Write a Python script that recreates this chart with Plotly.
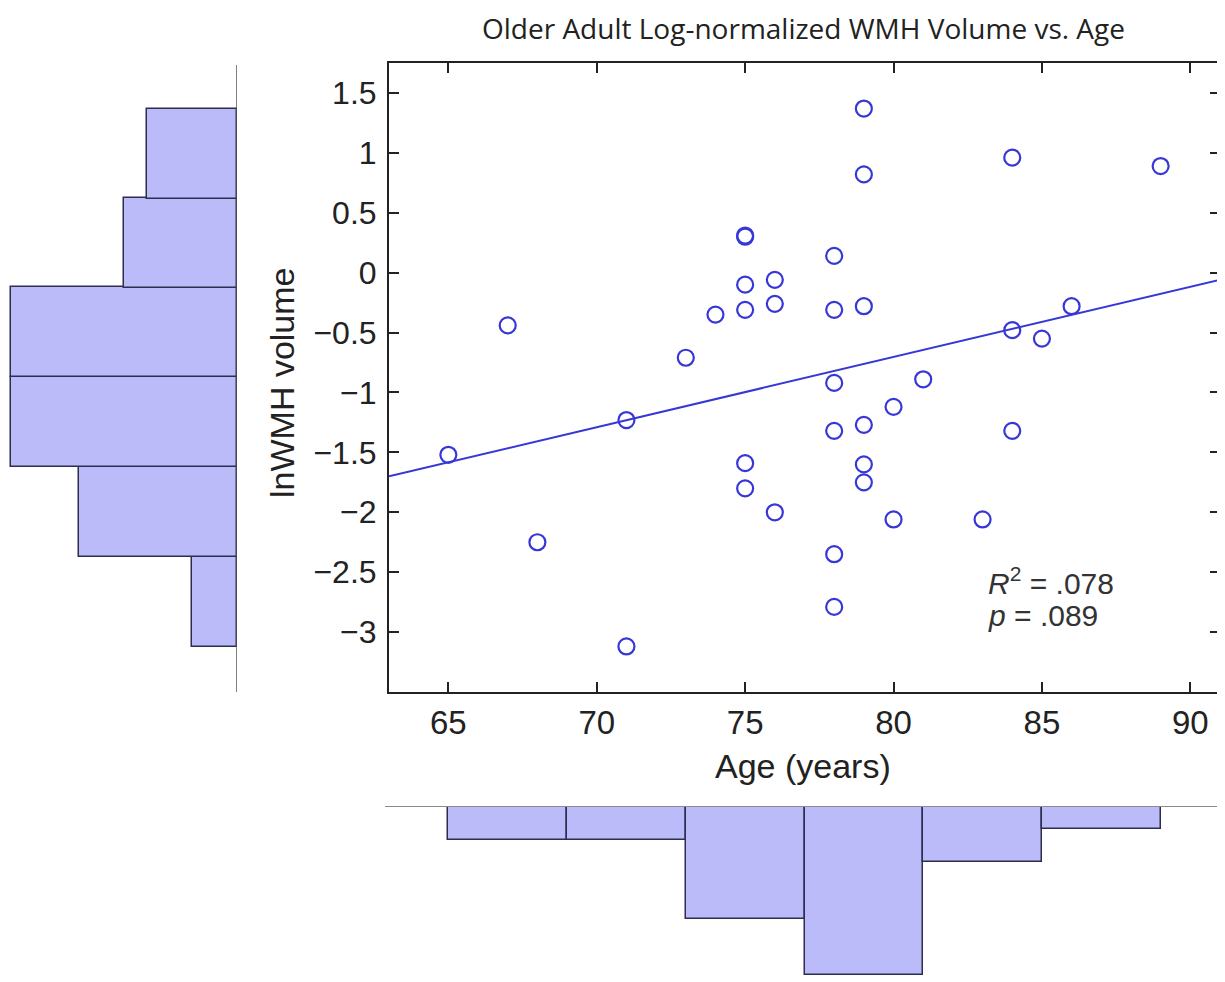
import numpy as np
import plotly.graph_objects as go

# ---------------- data ----------------
age = [65, 67, 68, 71, 71, 73, 74,
       75, 75, 75, 75, 75, 75,
       76, 76, 76,
       78, 78, 78, 78, 78, 78,
       79, 79, 79, 79, 79, 79,
       80, 80, 81, 83,
       84, 84, 84, 85, 86, 89]
ln_wmh = [-1.52, -0.44, -2.25, -1.23, -3.12, -0.71, -0.35,
          0.30, 0.31, -0.10, -0.31, -1.59, -1.80,
          -0.06, -0.26, -2.00,
          0.14, -0.31, -0.92, -1.32, -2.35, -2.79,
          1.37, 0.82, -0.28, -1.27, -1.60, -1.75,
          -1.12, -2.06, -0.89, -2.06,
          0.96, -0.48, -1.32, -0.55, -0.28, 0.89]

# marginal histogram counts (6 bins each)
age_bin_edges = [65, 69, 73, 77, 81, 85, 89]
age_counts = [3, 3, 10, 15, 5, 2]
wmh_bin_edges = [-3.125, -2.375, -1.625, -0.867, -0.125, 0.617, 1.367]
wmh_counts = [2, 7, 10, 10, 5, 4]

x_ticks = [65, 70, 75, 80, 85, 90]
y_ticks = [-3, -2.5, -2, -1.5, -1, -0.5, 0, 0.5, 1, 1.5]
y_ticktext = ["\u22123", "\u22122.5", "\u22122", "\u22121.5", "\u22121", "\u22120.5", "0", "0.5", "1", "1.5"]

title_text = "Older Adult Log-normalized WMH Volume vs. Age"
x_title = "Age (years)"
y_title = "lnWMH volume"
r2_text = "<i>R</i><sup>2</sup> = .078"
p_text = "<i>p</i> = .089"

# ---------------- derived ----------------
OFF = 8  # page body margin
W, H = 1225 - OFF, 982 - OFF
def px(xp):
    return (xp - OFF) / W
def py(yp):
    return 1 - (yp - OFF) / H

slope, intercept = np.polyfit(age, ln_wmh, 1)
x_range = [63, 91]
fit_x = x_range
fit_y = [slope * v + intercept for v in fit_x]

age_centers = [(a + b) / 2 for a, b in zip(age_bin_edges[:-1], age_bin_edges[1:])]
age_width = age_bin_edges[1] - age_bin_edges[0]
wmh_centers = [(a + b) / 2 for a, b in zip(wmh_bin_edges[:-1], wmh_bin_edges[1:])]
wmh_width = (wmh_bin_edges[-1] - wmh_bin_edges[0]) / len(wmh_counts)

blue = "rgb(55,55,215)"
bar_fill = "rgb(187,187,250)"
bar_edge = "rgb(45,45,80)"
txt = "#222222"
font_main = "Liberation Sans, Arial, sans-serif"

fig = go.Figure()

# left marginal histogram (horizontal, extending to the left)
fig.add_trace(go.Bar(
    x=wmh_counts, y=wmh_centers, orientation="h", width=wmh_width,
    xaxis="x2", yaxis="y",
    marker=dict(color=bar_fill, line=dict(color=bar_edge, width=1.5)),
    showlegend=False, hoverinfo="skip"))

# bottom marginal histogram (extending downward)
fig.add_trace(go.Bar(
    x=age_centers, y=age_counts, width=age_width,
    xaxis="x", yaxis="y3",
    marker=dict(color=bar_fill, line=dict(color=bar_edge, width=1.5)),
    showlegend=False, hoverinfo="skip"))

# regression line
fig.add_trace(go.Scatter(
    x=fit_x, y=fit_y, mode="lines", xaxis="x", yaxis="y",
    line=dict(color=blue, width=2), showlegend=False, hoverinfo="skip"))

# scatter points
fig.add_trace(go.Scatter(
    x=age, y=ln_wmh, mode="markers", xaxis="x", yaxis="y",
    marker=dict(symbol="circle-open", size=16, color=blue,
                line=dict(color=blue, width=2.2)),
    showlegend=False))

x_dom = [px(389), px(1220)]
y_dom = [py(692), py(63)]

fig.update_layout(
    width=W, height=H,
    margin=dict(l=0, r=0, t=0, b=0),
    paper_bgcolor="white", plot_bgcolor="white",
    bargap=0,
    font=dict(family=font_main, color=txt),
    xaxis=dict(domain=x_dom, range=x_range, anchor="y",
               showline=True, linecolor=txt, linewidth=2, mirror="ticks",
               ticks="inside", ticklen=10, tickwidth=2, tickcolor=txt,
               tickvals=x_ticks, tickfont=dict(size=33, family=font_main, color=txt),
               showgrid=False, zeroline=False),
    yaxis=dict(domain=y_dom, range=[-3.5, 1.75], anchor="x",
               showline=True, linecolor=txt, linewidth=2, mirror="ticks",
               ticks="inside", ticklen=10, tickwidth=2, tickcolor=txt,
               tickvals=y_ticks, ticktext=y_ticktext, ticklabelstandoff=4,
               tickfont=dict(size=32, family=font_main, color=txt),
               showgrid=False, zeroline=False),
    xaxis2=dict(domain=[0, px(237)], range=[(237 - OFF) / 22.6, 0], anchor="y",
                visible=False, showgrid=False, zeroline=False),
    yaxis3=dict(domain=[0, py(806)], range=[(982 - 806) / 11.27, 0], anchor="x",
                visible=False, showgrid=False, zeroline=False),
    shapes=[
        dict(type="line", xref="x2", x0=0, x1=0, yref="paper",
             y0=py(692), y1=py(65), line=dict(color="#555555", width=1.5), layer="above"),
        dict(type="line", yref="y3", y0=0, y1=0, xref="paper",
             x0=px(385), x1=px(1220), line=dict(color="#8a8a8a", width=2), layer="above"),
    ],
    annotations=[
        dict(text=title_text, xref="paper", yref="paper", x=px(803), y=1.0,
             xanchor="center", yanchor="top", showarrow=False, borderpad=0,
             font=dict(family="Open Sans, sans-serif", size=28, color=txt)),
        dict(text=x_title, xref="paper", yref="paper", x=px(803), y=py(766),
             xanchor="center", yanchor="middle", showarrow=False,
             font=dict(family=font_main, size=34, color=txt)),
        dict(text=y_title, xref="paper", yref="paper", x=px(282), y=py(383),
             xanchor="center", yanchor="middle", showarrow=False, textangle=-90,
             font=dict(family=font_main, size=34, color=txt)),
        dict(text=r2_text, xref="x", yref="y", x=83.1, y=-2.57,
             xanchor="left", yanchor="middle", showarrow=False,
             font=dict(family=font_main, size=30, color="#333333")),
        dict(text=p_text, xref="x", yref="y", x=83.1, y=-2.86,
             xanchor="left", yanchor="middle", showarrow=False,
             font=dict(family=font_main, size=30, color="#333333")),
    ],
)

fig.write_html("out.html")
